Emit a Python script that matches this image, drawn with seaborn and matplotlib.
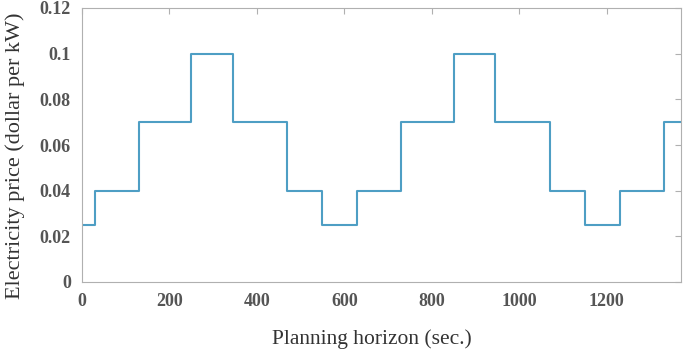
import pandas as pd
import matplotlib.pyplot as plt
import seaborn as sns

sns.set_style("white")
plt.rcParams['font.family'] = ['Liberation Serif', 'DejaVu Serif']

# step change times (sec.) and the price holding from each time on
change_times = [0, 30, 130, 250, 345, 470, 550, 630, 730, 850, 945, 1070, 1150, 1230, 1330, 1370]
prices = [0.025, 0.04, 0.07, 0.1, 0.07, 0.04, 0.025, 0.04, 0.07, 0.1, 0.07, 0.04, 0.025, 0.04, 0.07, 0.07]

price_data = pd.DataFrame({'time': change_times, 'price': prices})

fig = plt.figure(figsize=(6.85, 3.49), dpi=100)
ax = fig.add_axes([82 / 685, 1 - 282 / 349, (681 - 82) / 685, (282 - 8) / 349])

sns.lineplot(data=price_data, x='time', y='price', drawstyle='steps-post',
             color='#4e9ec4', linewidth=1.5, ax=ax)

ax.set_xlim(0, 1370)
ax.set_ylim(0, 0.12)
ax.set_xticks([0, 200, 400, 600, 800, 1000, 1200])
ax.set_yticks([0, 0.02, 0.04, 0.06, 0.08, 0.1, 0.12])
ax.set_yticklabels(['0', '0.02', '0.04', '0.06', '0.08', '0.1', '0.12'])

# matlab-like box with inward ticks on all sides
for side in ax.spines.values():
    side.set_color('#b0b0b0')
    side.set_linewidth(0.8)
ax.tick_params(direction='in', length=4, width=0.8, color='#b0b0b0',
               top=True, right=True, labelsize=13, labelcolor='#555555', pad=8)
for lbl in ax.get_xticklabels() + ax.get_yticklabels():
    lbl.set_fontweight('bold')

ax.set_xlabel('Planning horizon (sec.)', fontsize=15.5, color='#333333')
ax.set_ylabel('Electricity price (dollar per kW)', fontsize=16, color='#333333')
ax.xaxis.set_label_coords(0.484, -0.172)
ax.yaxis.set_label_coords(-0.095, 0.46)

plt.savefig('out.png', dpi=100)
